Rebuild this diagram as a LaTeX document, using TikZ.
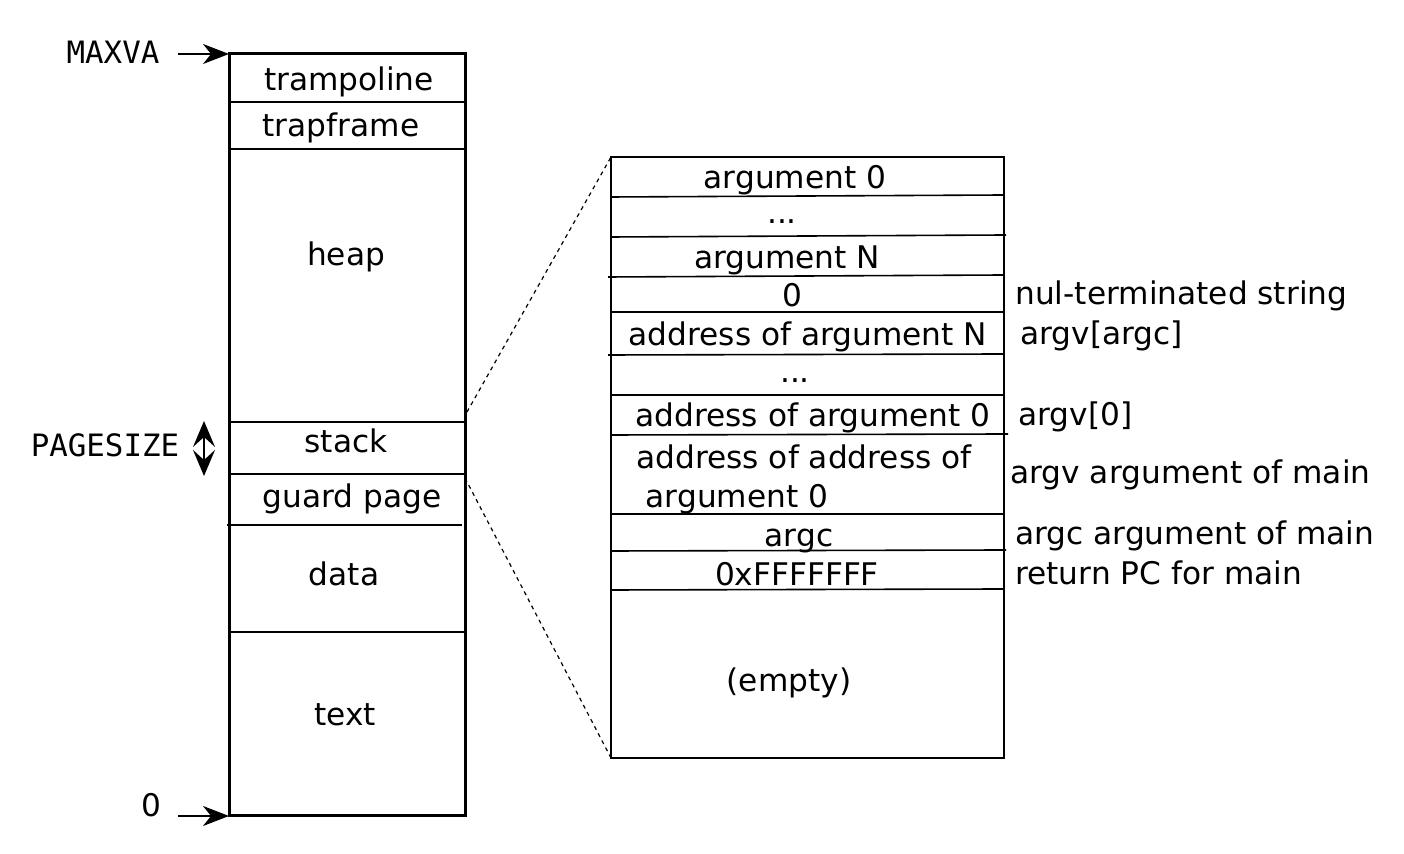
\documentclass[tikz,border=0pt]{standalone}
\usepackage{fontspec}
\setmainfont{DejaVu Sans}
\setmonofont{DejaVu Sans Mono}
\usetikzlibrary{arrows.meta}
\tikzset{
  lbl/.style={inner sep=0pt, anchor=base, font=\fontsize{15.6}{18}\selectfont},
  lblw/.style={inner sep=0pt, anchor=base west, font=\fontsize{15.6}{18}\selectfont},
  mono/.style={inner sep=0pt, anchor=base, font=\fontsize{15.4}{18}\selectfont\ttfamily},
  outer/.style={line width=1.5pt},
  inner/.style={line width=0.8pt},
  zoomline/.style={line width=0.6pt, dash pattern=on 2pt off 2pt},
  ptr/.style={line width=0.9pt, -{Stealth[length=13pt, width=10pt, inset=4pt]}},
  dptr/.style={line width=0.9pt, {Stealth[length=13pt, width=11pt, inset=5pt]}-{Stealth[length=13pt, width=11pt, inset=5pt]}}
}
\begin{document}
\begin{tikzpicture}[x=0.5pt, y=-0.5pt]
\useasboundingbox (0,0) rectangle (1404,854);
% left memory box
\draw[outer] (229,54) rectangle (465,816);
\draw[inner] (229,102) -- (465,102);
\draw[inner] (229,149) -- (465,149);
\draw[inner] (229,422) -- (465,422);
\draw[inner] (229,474) -- (465,474);
\draw[inner] (227,525) -- (462,525);
\draw[inner] (229,632) -- (465,632);
\node[lbl] (tramp) at (349,91) {trampoline};
\node[lbl] (trapf) at (341,137) {trapframe};
\node[lbl] (heap) at (346,266) {heap};
\node[lbl] (stack) at (346,453) {stack};
\node[lbl] (guard) at (352,508) {guard page};
\node[lbl] (data) at (344,586) {data};
\node[lbl] (text) at (345,726) {text};
% left annotations
\node[mono] (maxva) at (113,64) {MAXVA};
\node[lbl] (zero) at (151,817) {0};
\node[mono] (pagesize) at (105,457) {PAGESIZE};
\coordinate (maxvaS) at (178,54);
\coordinate (maxvaE) at (229,54);
\coordinate (zeroS) at (178,816);
\coordinate (zeroE) at (229,816);
\coordinate (psT) at (204,421);
\coordinate (psB) at (204,476);
\draw[ptr] (maxvaS) -- (maxvaE);
\draw[ptr] (zeroS) -- (zeroE);
\draw[dptr] (psT) -- (psB);
% right stack box
\draw[line width=1.1pt] (611,157) rectangle (1004,758);
\draw[inner] (611,197) -- (1004,195);
\draw[inner] (611,237) -- (1006,235);
\draw[inner] (608,277) -- (1004,275);
\draw[inner] (611,312) -- (1004,312);
\draw[inner] (608,355) -- (1004,354);
\draw[inner] (611,395) -- (1004,395);
\draw[inner] (611,435) -- (1008,434);
\draw[inner] (611,514) -- (1004,514);
\draw[inner] (611,551) -- (1006,550);
\draw[inner] (611,590) -- (1004,589);
\node[lbl] (a0) at (795,189) {argument 0};
\node[lbl] (d1) at (782,224) {...};
\node[lbl] (aN) at (787,269) {argument N};
\node[lbl] (z0) at (792,307) {0};
\node[lbl] (adN) at (808,346) {address of argument N};
\node[lbl] (d2) at (795,383) {...};
\node[lbl] (ad0) at (813,427) {address of argument 0};
\node[lbl] (aad1) at (804,469) {address of address of};
\node[lbl] (aad2) at (737,508) {argument 0};
\node[lbl] (argc) at (799,547) {argc};
\node[lbl] (ret) at (797,586) {0xFFFFFFF};
\node[lbl] (empty) at (789,692) {(empty)};
% right annotations
\node[lblw] (nul) at (1015,305) {nul-terminated string};
\node[lblw] (argvargc) at (1020,345) {argv[argc]};
\node[lblw] (argv0) at (1018,426) {argv[0]};
\node[lblw] (argvm) at (1010,484) {argv argument of main};
\node[lblw] (argcm) at (1015,545) {argc argument of main};
\node[lblw] (retm) at (1015,585) {return PC for main};
% zoom lines
\coordinate (zA) at (467,412);
\coordinate (zB) at (611,157);
\coordinate (zC) at (465,478);
\coordinate (zD) at (611,758);
\draw[zoomline] (zA) -- (zB);
\draw[zoomline] (zC) -- (zD);
\end{tikzpicture}
\end{document}
